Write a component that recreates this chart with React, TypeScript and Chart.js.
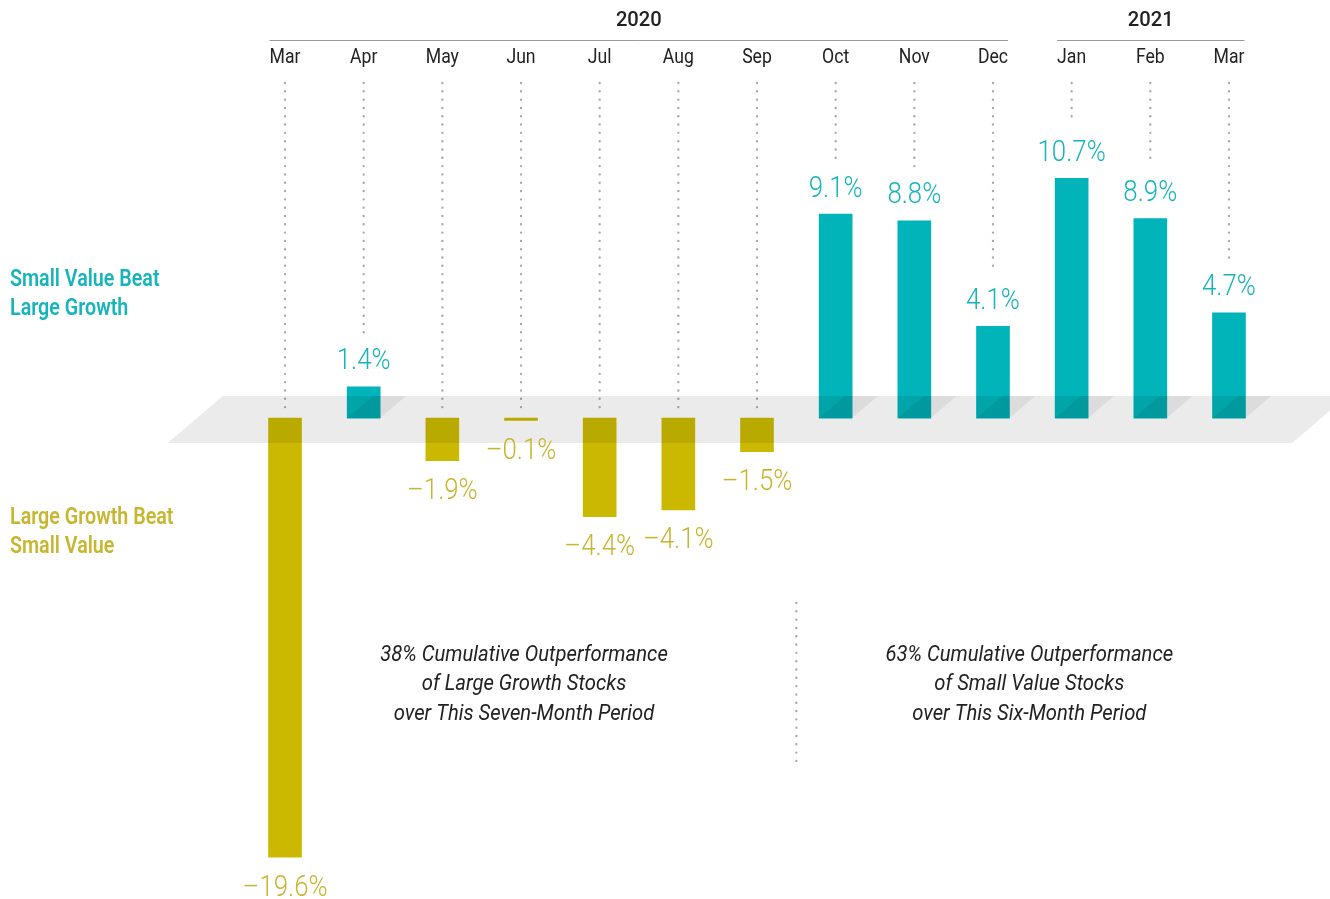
import React, { useEffect, useRef } from "react";
import { Chart, registerables } from "chart.js";

Chart.register(...registerables);

const months = ["Mar", "Apr", "May", "Jun", "Jul", "Aug", "Sep", "Oct", "Nov", "Dec", "Jan", "Feb", "Mar"];
const values = [-19.6, 1.4, -1.9, -0.1, -4.4, -4.1, -1.5, 9.1, 8.8, 4.1, 10.7, 8.9, 4.7];
const yearLabels = ["2020", "2021"];
const yearFirst = [0, 10];
const yearLast = [9, 12];
const upLabel = ["Small Value Beat", "Large Growth"];
const downLabel = ["Large Growth Beat", "Small Value"];
const noteLeft = ["38% Cumulative Outperformance", "of Large Growth Stocks", "over This Seven-Month Period"];
const noteRight = ["63% Cumulative Outperformance", "of Small Value Stocks", "over This Six-Month Period"];
const periodSplit = 7; // first index of second period

const TEAL = "#00b4b9";
const OLIVE = "#cab900";
const TEAL_T = "#17b5bb";
const OLIVE_T = "#c8b630";
const FAM = "Roboto, 'Noto Sans', sans-serif";

function txt(ctx: CanvasRenderingContext2D, s: string, x: number, y: number, font: string, color: string, align: CanvasTextAlign, sx: number) {
  ctx.save();
  ctx.font = font;
  ctx.fillStyle = color;
  ctx.textBaseline = "middle";
  ctx.textAlign = align;
  ctx.translate(x, y);
  ctx.scale(sx, 1);
  ctx.fillText(s, 0, 0);
  ctx.restore();
}
function tw(ctx: CanvasRenderingContext2D, s: string, font: string, sx: number) {
  ctx.save();
  ctx.font = font;
  const w = ctx.measureText(s).width * sx;
  ctx.restore();
  return w;
}
function fmt(v: number) {
  const s = Math.abs(v).toFixed(1) + "%";
  return v < 0 ? "\u2013" + s : s;
}

const decor = {
  id: "decor",
  beforeDatasetsDraw(chart: any) {
    const ctx: CanvasRenderingContext2D = chart.ctx;
    const meta = chart.getDatasetMeta(0);
    const zero = chart.scales.y.getPixelForValue(0);
    ctx.save();
    ctx.strokeStyle = "#ababab";
    ctx.lineWidth = 2.4;
    ctx.lineCap = "round";
    ctx.setLineDash([0.01, 8.3]);
    meta.data.forEach((bar: any, i: number) => {
      const v = values[i];
      const end = v >= 0 ? bar.y - 54 : zero - 5;
      ctx.beginPath();
      ctx.moveTo(bar.x, 83);
      ctx.lineTo(bar.x, end);
      ctx.stroke();
    });
    const sx = (meta.data[periodSplit - 1].x + meta.data[periodSplit].x) / 2;
    ctx.beginPath();
    ctx.moveTo(sx, 603);
    ctx.lineTo(sx, 763);
    ctx.stroke();
    ctx.restore();
  },
  afterDatasetsDraw(chart: any) {
    const ctx: CanvasRenderingContext2D = chart.ctx;
    const meta = chart.getDatasetMeta(0);
    const area = chart.chartArea;
    const zero = chart.scales.y.getPixelForValue(0);
    const top = zero - 22;
    const bot = zero + 25;
    const skew = 55 / 47;
    ctx.save();
    ctx.fillStyle = "rgba(0,0,0,0.08)";
    const bl = area.left - 78;
    const br = area.right + 24;
    ctx.beginPath();
    ctx.moveTo(bl, bot);
    ctx.lineTo(bl + skew * (bot - top), top);
    ctx.lineTo(br + skew * (bot - top), top);
    ctx.lineTo(br, bot);
    ctx.closePath();
    ctx.fill();
    ctx.fillStyle = "rgba(0,0,0,0.065)";
    meta.data.forEach((bar: any, i: number) => {
      if (values[i] <= 0) return;
      const l = bar.x - bar.width / 2;
      const r = bar.x + bar.width / 2;
      const d = skew * (zero - top);
      ctx.beginPath();
      ctx.moveTo(l, zero);
      ctx.lineTo(r, zero);
      ctx.lineTo(r + d, top);
      ctx.lineTo(l + d, top);
      ctx.closePath();
      ctx.fill();
    });
    ctx.restore();

    const vFont = `300 30px ${FAM}`;
    meta.data.forEach((bar: any, i: number) => {
      const v = values[i];
      if (v >= 0) txt(ctx, fmt(v), bar.x, bar.y - 25, vFont, TEAL_T, "center", 0.86);
      else txt(ctx, fmt(v), bar.x, bar.y + 31, vFont, OLIVE_T, "center", 0.86);
    });

    const mFont = `400 21px ${FAM}`;
    const MSX = 0.84;
    meta.data.forEach((bar: any, i: number) => {
      txt(ctx, months[i], bar.x, 58, mFont, "#222", "center", MSX);
    });
    const yFont = `500 21px ${FAM}`;
    yearLabels.forEach((y, k) => {
      const a = meta.data[yearFirst[k]];
      const b = meta.data[yearLast[k]];
      const l = a.x - tw(ctx, months[yearFirst[k]], mFont, MSX) / 2;
      const r = b.x + tw(ctx, months[yearLast[k]], mFont, MSX) / 2;
      ctx.save();
      ctx.strokeStyle = "#9a9a9a";
      ctx.lineWidth = 1;
      ctx.beginPath();
      ctx.moveTo(l, 40.5);
      ctx.lineTo(r, 40.5);
      ctx.stroke();
      ctx.restore();
      txt(ctx, y, (l + r) / 2, 21, yFont, "#222", "center", 0.96);
    });
    const sFont = `600 24px ${FAM}`;
    upLabel.forEach((s, k) => txt(ctx, s, 10, 280 + k * 29, sFont, TEAL_T, "left", 0.82));
    downLabel.forEach((s, k) => txt(ctx, s, 10, 518 + k * 29, sFont, OLIVE_T, "left", 0.82));
    const nFont = `italic 400 22px ${FAM}`;
    const c1 = (meta.data[0].x + meta.data[periodSplit - 1].x) / 2 + 3;
    const c2 = (meta.data[periodSplit].x + meta.data[meta.data.length - 1].x) / 2 - 3;
    noteLeft.forEach((s, k) => txt(ctx, s, c1, 655 + k * 29.5, nFont, "#222", "center", 0.92));
    noteRight.forEach((s, k) => txt(ctx, s, c2, 655 + k * 29.5, nFont, "#222", "center", 0.92));
  },
};

export default function App() {
  const ref = useRef<HTMLCanvasElement>(null);
  useEffect(() => {
    document.body.style.margin = "0";
    const chart = new Chart(ref.current!, {
      type: "bar",
      data: {
        labels: months.map((m, i) => m + i),
        datasets: [
          {
            data: values,
            backgroundColor: values.map((v) => (v >= 0 ? TEAL : OLIVE)),
            barThickness: 33,
            borderWidth: 0,
          },
        ],
      },
      options: {
        animation: false,
        responsive: true,
        maintainAspectRatio: false,
        layout: { padding: { left: 245.7, right: 61.7, top: 149.2, bottom: 32.8 } },
        scales: {
          x: { display: false, offset: true },
          y: { display: false, min: -20, max: 12 },
        },
        plugins: { legend: { display: false }, tooltip: { enabled: false } },
      },
      plugins: [decor],
    });
    return () => chart.destroy();
  }, []);
  return (
    <div style={{ width: 1330, height: 899, position: "relative", background: "#fff" }}>
      <canvas ref={ref} />
    </div>
  );
}
